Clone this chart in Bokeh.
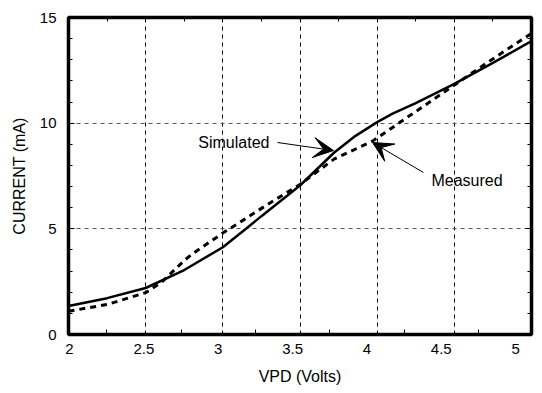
import numpy as np
from bokeh.plotting import figure
from bokeh.models import (Range1d, LinearAxis, FixedTicker, Grid, Arrow, VeeHead, Label)
from bokeh.embed import file_html
from bokeh.resources import INLINE

# ---- data ----
sim_v = [2.0, 2.25, 2.5, 2.75, 3.0, 3.15, 3.25, 3.5, 3.72, 3.86, 4.0, 4.1, 4.25, 4.5, 4.75, 5.0]
sim_i = [1.35, 1.72, 2.2, 3.05, 4.13, 5.0, 5.6, 7.05, 8.6, 9.4, 10.05, 10.45, 10.95, 11.86, 12.85, 13.88]

meas_v = [2.0, 2.25, 2.5, 2.6, 2.75, 2.8, 3.0, 3.13, 3.3, 3.5, 3.72, 3.97, 4.05, 4.15, 4.3, 4.5, 4.72, 5.0]
meas_i = [1.1, 1.42, 1.98, 2.45, 3.5, 3.8, 4.8, 5.4, 6.2, 7.1, 8.3, 9.15, 9.55, 10.05, 10.8, 11.8, 12.9, 14.25]

x_ticks = [2, 2.5, 3, 3.5, 4, 4.5, 5]
x_tick_labels = ["2", "2.5", "3", "3.5", "4", "4.5", "5"]
y_ticks = [0, 5, 10, 15]
y_tick_labels = ["0", "5", "10", "15"]

FONT = "Liberation Sans"

p = figure(width=542, height=393, x_range=Range1d(2, 5), y_range=Range1d(0, 15),
           x_axis_type=None, y_axis_type=None,
           output_backend="svg", toolbar_location=None,
           min_border_left=68, min_border_right=11, min_border_top=17, min_border_bottom=59)
p.outline_line_color = "black"
p.outline_line_width = 3.5
p.background_fill_color = "white"
p.border_fill_color = "white"

# bottom label axis (slightly compressed scale, as in the reference)
p.extra_x_ranges = {"lab": Range1d(1.993, 5.107)}

x_minor = list(np.arange(2, 5.001, 0.25))
x_mid = [(a + b) / 2 for a, b in zip(x_ticks[:-1], x_ticks[1:])]
y_minor = list(range(0, 16))


def style_axis(ax, labels=True):
    ax.axis_line_color = None
    ax.major_tick_out = 0
    ax.minor_tick_out = 0
    ax.major_tick_line_color = "black"
    ax.minor_tick_line_color = "black"
    ax.major_tick_line_width = 1
    ax.minor_tick_line_width = 1
    if labels:
        ax.major_label_text_font = FONT
        ax.major_label_text_font_size = "15px"
        ax.major_label_text_color = "black"
        ax.axis_label_text_font = FONT
        ax.axis_label_text_font_size = "16px"
        ax.axis_label_text_font_style = "normal"
        ax.axis_label_text_color = "black"
    else:
        ax.major_label_text_font_size = "0px"
        ax.major_label_text_color = None
        ax.major_label_standoff = 0


# left axis
yax = LinearAxis(ticker=FixedTicker(ticks=y_ticks, minor_ticks=y_minor),
                 axis_label="CURRENT (mA)")
style_axis(yax)
yax.major_label_overrides = {t: s for t, s in zip(y_ticks, y_tick_labels)}
yax.major_tick_in = 6
yax.minor_tick_in = 4
yax.major_label_standoff = 12
yax.axis_label_standoff = 9
p.add_layout(yax, "left")

# right axis (ticks only)
yax_r = LinearAxis(ticker=FixedTicker(ticks=y_ticks, minor_ticks=y_minor))
style_axis(yax_r, labels=False)
yax_r.major_tick_in = 6
yax_r.minor_tick_in = 4
p.add_layout(yax_r, "right")

# top axis (ticks only)
xax_t = LinearAxis(ticker=FixedTicker(ticks=x_ticks, minor_ticks=x_minor))
style_axis(xax_t, labels=False)
xax_t.major_tick_in = 4
xax_t.minor_tick_in = 4
p.add_layout(xax_t, "above")

# bottom axis with labels
xax = LinearAxis(x_range_name="lab", ticker=FixedTicker(ticks=x_ticks, minor_ticks=x_mid),
                 axis_label="VPD (Volts)")
style_axis(xax)
xax.major_label_overrides = {t: s for t, s in zip(x_ticks, x_tick_labels)}
xax.major_tick_in = 0
xax.minor_tick_in = 5
xax.major_label_standoff = 9
xax.axis_label_standoff = 11
p.add_layout(xax, "below")

# grids
gx = Grid(dimension=0, ticker=FixedTicker(ticks=x_ticks[1:-1]),
          grid_line_color="black", grid_line_width=1, grid_line_dash="4 4")
gy = Grid(dimension=1, ticker=FixedTicker(ticks=y_ticks[1:-1]),
          grid_line_color="#555555", grid_line_width=1, grid_line_dash="4 4")
p.add_layout(gx)
p.add_layout(gy)

# curves
p.line(meas_v, meas_i, line_color="black", line_width=3, line_dash="6 5")
p.line(sim_v, sim_i, line_color="black", line_width=2.5)

# annotations
sim_arrow = dict(x_start=3.354, y_start=9.085, x_end=3.717, y_end=8.707)
meas_arrow = dict(x_start=4.300, y_start=7.666, x_end=3.970, y_end=9.085)
for a in (sim_arrow, meas_arrow):
    p.add_layout(Arrow(end=VeeHead(size=20, fill_color="black", line_color="black", line_width=1),
                       line_color="black", line_width=1, **a))

p.add_layout(Label(x=3.302, y=9.10, text="Simulated", text_align="right", text_baseline="middle",
                   text_font=FONT, text_font_size="16px", text_color="black"))
p.add_layout(Label(x=4.352, y=7.29, text="Measured", text_align="left", text_baseline="middle",
                   text_font=FONT, text_font_size="16px", text_color="black"))

open("out.html", "w").write(file_html(p, INLINE))
